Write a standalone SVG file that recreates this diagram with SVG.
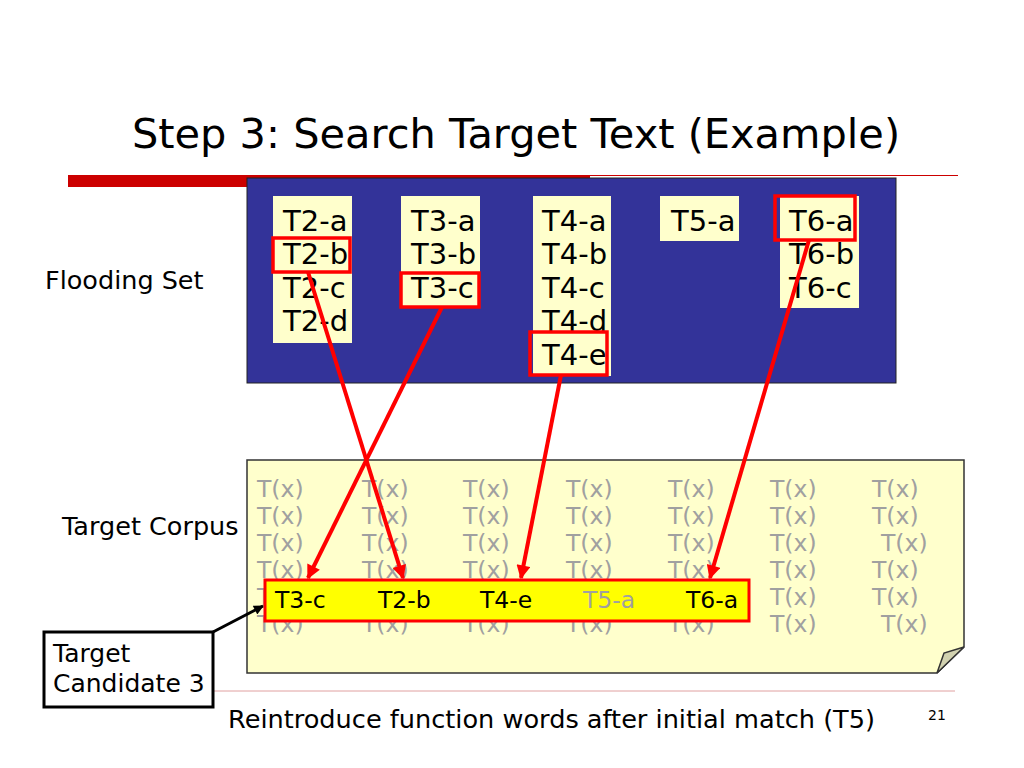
<svg xmlns="http://www.w3.org/2000/svg" width="1024" height="768" viewBox="0 0 1024 768">
<defs>
<style>
text{font-family:"DejaVu Sans","Verdana",sans-serif;}
.col{fill:#ffffcc;}
.item{font-size:29px;fill:#000;}
.hl{fill:none;stroke:#ff0000;stroke-width:3.5;}
.tx{font-size:23.5px;fill:#a0a0a0;}
.cand{font-size:23.5px;fill:#000;}
.lbl{font-size:25.5px;fill:#000;}
.call{font-size:25px;fill:#000;}
.rl{stroke:#ff0000;stroke-width:4;fill:none;marker-end:url(#ra);}
</style>
<marker id="ra" viewBox="0 0 10 10" refX="9" refY="5" markerUnits="userSpaceOnUse" markerWidth="16" markerHeight="14" orient="auto">
<path d="M0,0 L10,5 L0,10 z" fill="#ff0000"/>
</marker>
<marker id="ka" viewBox="0 0 10 10" refX="9" refY="5" markerUnits="userSpaceOnUse" markerWidth="12" markerHeight="10" orient="auto">
<path d="M0,0 L10,5 L0,10 z" fill="#000"/>
</marker>
</defs>
<rect width="1024" height="768" fill="#fff"/>
<g id="title">
<text x="516" y="148" font-size="41.5" text-anchor="middle">Step 3: Search Target Text (Example)</text>
<line x1="68" y1="175.5" x2="958" y2="175.5" stroke="#cc0000" stroke-width="1"/>
<rect x="68" y="175" width="522" height="12" fill="#cc0000"/>
</g>
<g id="flooding-set">
<rect x="247" y="178" width="649" height="205" fill="#333399" stroke="#222" stroke-width="1"/>
<rect class="col" x="273" y="196" width="79" height="147"/>
<rect class="col" x="401" y="196" width="79" height="111"/>
<rect class="col" x="533" y="196" width="78" height="180"/>
<rect class="col" x="660" y="196" width="79" height="45"/>
<rect class="col" x="780" y="196" width="79" height="112"/>
<text class="item" x="283" y="231">T2-a</text>
<text class="item" x="283" y="264">T2-b</text>
<text class="item" x="283" y="298">T2-c</text>
<text class="item" x="283" y="331">T2-d</text>
<text class="item" x="411" y="231">T3-a</text>
<text class="item" x="411" y="264">T3-b</text>
<text class="item" x="411" y="298">T3-c</text>
<text class="item" x="542" y="231">T4-a</text>
<text class="item" x="542" y="264">T4-b</text>
<text class="item" x="542" y="298">T4-c</text>
<text class="item" x="542" y="331">T4-d</text>
<text class="item" x="542" y="365">T4-e</text>
<text class="item" x="671" y="231">T5-a</text>
<text class="item" x="789" y="231">T6-a</text>
<text class="item" x="789" y="264">T6-b</text>
<text class="item" x="789" y="298">T6-c</text>
<rect class="hl" x="273" y="238" width="77" height="34"/>
<rect class="hl" x="401" y="273" width="78" height="34"/>
<rect class="hl" x="530" y="332" width="77" height="43"/>
<rect class="hl" x="775" y="196" width="80" height="44"/>
</g>
<g id="flooding-label"><text class="lbl" x="45" y="289">Flooding Set</text></g>
<g id="corpus-label"><text class="lbl" x="62" y="535">Target Corpus</text></g>
<g id="target-corpus">
<path d="M247,460 H964 V647 L937,673 H247 Z" fill="#ffffcc" stroke="#333" stroke-width="1.5"/>
<path d="M937,673 L944,653 L964,647 Z" fill="#d2d2b0" stroke="#333" stroke-width="1.5"/>
<text class="tx" x="257" y="497">T(x)</text><text class="tx" x="362" y="497">T(x)</text><text class="tx" x="463" y="497">T(x)</text><text class="tx" x="566" y="497">T(x)</text><text class="tx" x="668" y="497">T(x)</text><text class="tx" x="770" y="497">T(x)</text><text class="tx" x="872" y="497">T(x)</text>
<text class="tx" x="257" y="524">T(x)</text><text class="tx" x="362" y="524">T(x)</text><text class="tx" x="463" y="524">T(x)</text><text class="tx" x="566" y="524">T(x)</text><text class="tx" x="668" y="524">T(x)</text><text class="tx" x="770" y="524">T(x)</text><text class="tx" x="872" y="524">T(x)</text>
<text class="tx" x="257" y="551">T(x)</text><text class="tx" x="362" y="551">T(x)</text><text class="tx" x="463" y="551">T(x)</text><text class="tx" x="566" y="551">T(x)</text><text class="tx" x="668" y="551">T(x)</text><text class="tx" x="770" y="551">T(x)</text><text class="tx" x="881" y="551">T(x)</text>
<text class="tx" x="257" y="578">T(x)</text><text class="tx" x="362" y="578">T(x)</text><text class="tx" x="463" y="578">T(x)</text><text class="tx" x="566" y="578">T(x)</text><text class="tx" x="668" y="578">T(x)</text><text class="tx" x="770" y="578">T(x)</text><text class="tx" x="872" y="578">T(x)</text>
<text class="tx" x="257" y="605">T(x)</text><text class="tx" x="770" y="605">T(x)</text><text class="tx" x="872" y="605">T(x)</text>
<text class="tx" x="257" y="632">T(x)</text><text class="tx" x="362" y="632">T(x)</text><text class="tx" x="463" y="632">T(x)</text><text class="tx" x="566" y="632">T(x)</text><text class="tx" x="668" y="632">T(x)</text><text class="tx" x="770" y="632">T(x)</text><text class="tx" x="881" y="632">T(x)</text>
</g>
<g id="candidate">
<rect x="265" y="580" width="484" height="41" fill="#ffff00" stroke="#ff0000" stroke-width="3"/>
<text class="cand" x="275" y="608">T3-c</text>
<text class="cand" x="378" y="608">T2-b</text>
<text class="cand" x="480" y="608">T4-e</text>
<text class="cand" x="583" y="608" style="fill:#a0a0a0">T5-a</text>
<text class="cand" x="686" y="608">T6-a</text>
</g>
<g id="bottom-rule"><line x1="213" y1="691" x2="955" y2="691" stroke="#e0a0a0" stroke-width="1"/></g>
<g id="callout">
<rect x="44" y="632" width="169" height="75" fill="#fff" stroke="#000" stroke-width="3"/>
<text class="call" x="53" y="662">Target</text>
<text class="call" x="53" y="692">Candidate 3</text>
</g>
<g id="connectors">
<line class="rl" x1="308" y1="272" x2="403" y2="578"/>
<line class="rl" x1="442" y1="307" x2="308" y2="578"/>
<line class="rl" x1="561" y1="375" x2="521" y2="578"/>
<line class="rl" x1="809" y1="240" x2="710" y2="578"/>
<line x1="213" y1="632" x2="263" y2="606" stroke="#000" stroke-width="3" marker-end="url(#ka)"/>
</g>
<g id="footer">
<text x="228" y="728" font-size="25.6">Reintroduce function words after initial match (T5)</text>
<text x="928" y="720" font-size="14">21</text>
</g>
</svg>
